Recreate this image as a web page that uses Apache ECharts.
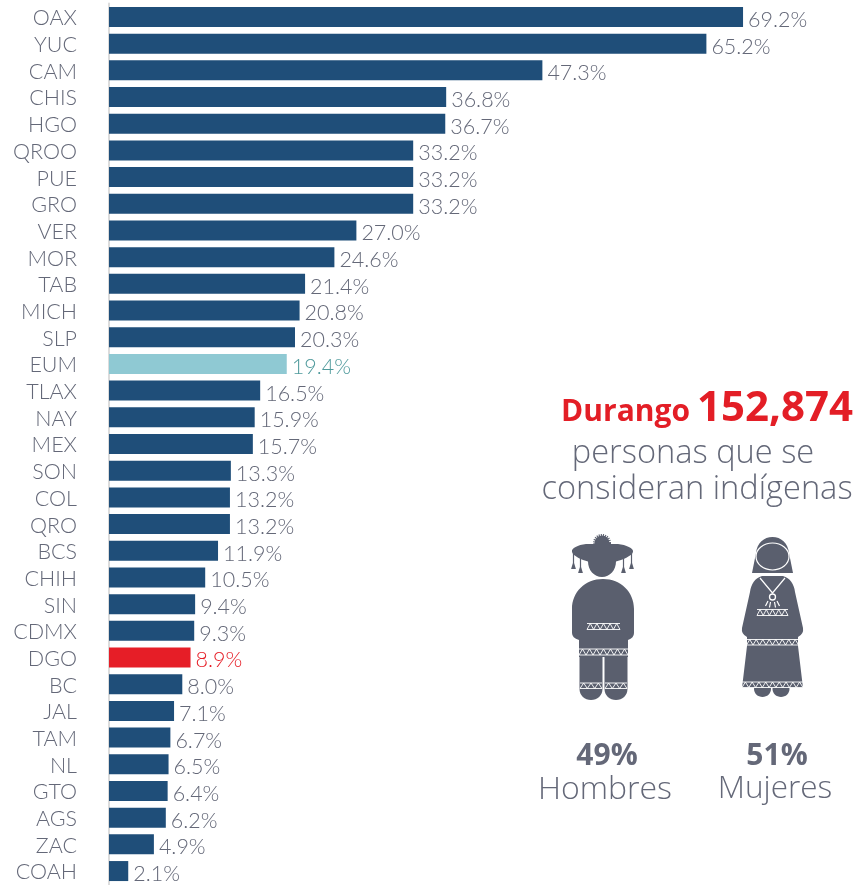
<!DOCTYPE html>
<html><head><meta charset="utf-8">
<script src="https://cdn.jsdelivr.net/npm/echarts@6/dist/echarts.min.js"></script>
<style>html,body{margin:0;padding:0;background:#fff}#c{width:855px;height:885px}</style>
</head><body><div id="c"></div>
<script>
const categories = ['OAX','YUC','CAM','CHIS','HGO','QROO','PUE','GRO','VER','MOR','TAB','MICH','SLP','EUM','TLAX','NAY','MEX','SON','COL','QRO','BCS','CHIH','SIN','CDMX','DGO','BC','JAL','TAM','NL','GTO','AGS','ZAC','COAH'];
const values = [69.2,65.2,47.3,36.8,36.7,33.2,33.2,33.2,27.0,24.6,21.4,20.8,20.3,19.4,16.5,15.9,15.7,13.3,13.2,13.2,11.9,10.5,9.4,9.3,8.9,8.0,7.1,6.7,6.5,6.4,6.2,4.9,2.1];
const highlights = {EUM:{bar:'#8fc9d3',text:'#4f9a9c'}, DGO:{bar:'#e61e27',text:'#e61e27'}};
const BAR='#1f4e79', TXT='#646878', ICON='#5a5f6e', RED='#e31e26';
const FONT='Lato, "Open Sans", sans-serif', SIDE='"Open Sans", sans-serif';

function band(x1,x2,y1,y2,n){
  let d=`M${x1} ${y1}L${x2} ${y1}M${x1} ${y2}L${x2} ${y2}M${x1} ${y2}`;
  const w=(x2-x1)/n;
  for(let i=0;i<n;i++){d+=`L${x1+w*(i+.5)} ${y1}L${x1+w*(i+1)} ${y2}`;}
  return {type:'path',shape:{pathData:d},style:{fill:null,stroke:'#fff',lineWidth:0.9}};
}
function solid(d){return {type:'path',shape:{pathData:d},style:{fill:ICON}};}
function tassel(c,t,b){return solid(`M${c-.6} ${t}L${c+.6} ${t}L${c+.6} ${b-6}L${c+2.4} ${b}L${c-2.4} ${b}L${c-.6} ${b-6}Z`);}
function text(t,x,base,size,color,weight,align){
  return {type:'text',x,y:base-0.36*size,style:{text:t,fontFamily:SIDE,fontSize:size,fontWeight:weight,fill:color,align:align||'center',verticalAlign:'middle'}};
}
const labelsG=[
  text('Durango',690,423,30,RED,700,'right'),
  text('152,874',853,424,42,RED,700,'right'),
  text('personas que se',693,465,32.6,TXT,300),
  text('consideran indígenas',697,501,32.6,TXT,300),
  text('49%',607,767,30,TXT,700),
  text('Hombres',605,801,32,TXT,300),
  text('51%',777,767,30,TXT,700),
  text('Mujeres',775,800,31.5,TXT,300)
];
const iconShapes=[
  {type:'circle',shape:{cx:602,cy:543,r:7.5},style:{fill:ICON,stroke:ICON,lineWidth:3,lineDash:[1,1]}},
  solid('M572 552C571 548 578 545 586 544L618 544C626 545 634 548 633 552C632 556 622 560 616 561.5C616 570 610 577 602 577C594 577 588 570 588 561.5C582 560 573 556 572 552Z'),
  tassel(573.5,553,569),tassel(580.5,558,573),tassel(623.5,558,573),tassel(631.5,553,569),
  solid('M603 579C585 579 572 592 572 609L572 633Q572 638 579 640L579 650L628 650L628 640Q634 638 634 633L634 609C634 592 621 579 603 579Z'),
  solid('M579 648L628 648L628 657L579 657Z'),
  solid('M579.5 657L602.5 657L602.5 689C602.5 695.4 597.3 700 591 700C584.7 700 579.5 695.4 579.5 689Z'),
  solid('M604.5 657L627.5 657L627.5 689C627.5 695.4 622.3 700 616 700C609.7 700 604.5 695.4 604.5 689Z'),
  band(587,620,623.5,629.5,5),
  band(579,628,649,655,7),
  band(580,602,683,688.5,3),
  band(605,627,683,688.5,3),
  solid('M752 573L756 553C757 543 764 537 772.5 537C781 537 788 543 789 553L793 573Z'),
  {type:'ellipse',shape:{cx:772.5,cy:556.5,rx:16.5,ry:13.5},style:{fill:ICON,stroke:'#fff',lineWidth:1.2}},
  solid('M762 576L783 576C790 578 794 584 795 592L803 628Q804 634 798 637L798 646L803 688L742 688L747 646L747 637Q741 634 742 628L750 592C751 584 755 578 762 576Z'),
  {type:'ellipse',shape:{cx:762.5,cy:689,rx:8.5,ry:8},style:{fill:ICON}},
  {type:'ellipse',shape:{cx:781,cy:689,rx:8.5,ry:8},style:{fill:ICON}},
  {type:'path',shape:{pathData:'M760 578L772.5 593L785 578M768 601L765.5 606M770.5 602L769.5 607.5M774.5 602L775.5 607.5M777 601L779.5 606'},style:{fill:null,stroke:'#fff',lineWidth:1.2}},
  {type:'circle',shape:{cx:772.5,cy:597,r:3},style:{fill:ICON,stroke:'#fff',lineWidth:1.3}},
  band(757,788,609.5,615.5,5),
  band(746.5,798.5,639.5,645,8),
  band(742,803,682,687.5,9)
];
const option={
  animation:false,
  grid:{left:109,right:13,top:3.6,bottom:0.6,containLabel:false},
  xAxis:{type:'value',min:0,max:80,show:false},
  yAxis:{type:'category',inverse:true,data:categories,offset:1,
    axisTick:{show:false},
    axisLine:{show:true,lineStyle:{color:'#dcdcdc',width:2}},
    axisLabel:{margin:31,color:TXT,fontFamily:FONT,fontSize:21.5,fontWeight:300,interval:0,verticalAlign:'top',lineHeight:3}},
  series:[{type:'bar',barWidth:20,silent:true,
    data:values.map((v,i)=>{
      const h=highlights[categories[i]];
      return {value:v,itemStyle:{color:h?h.bar:BAR},label:{color:h?h.text:TXT}};
    }),
    label:{show:true,position:'right',distance:5,offset:[0,3],fontFamily:FONT,fontSize:21.5,fontWeight:300,
      formatter:p=>p.value.toFixed(1)+'%'}},
   {type:'custom',coordinateSystem:'none',silent:true,clip:false,data:[0],
    renderItem:()=>({type:'group',children:iconShapes})}],
  graphic:labelsG
};
echarts.init(document.getElementById('c'),null,{renderer:'canvas'}).setOption(option);
</script></body></html>
